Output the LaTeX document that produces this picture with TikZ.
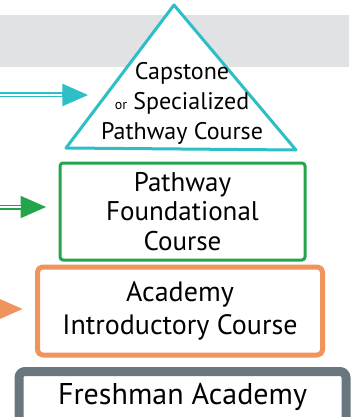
\documentclass[tikz,border=0pt]{standalone}
\usepackage{fontspec}
\setmainfont{PT Sans}
\usetikzlibrary{arrows.meta,positioning}
\definecolor{capteal}{HTML}{2EBEC8}
\definecolor{pathgreen}{HTML}{22A54B}
\definecolor{introorange}{HTML}{F0945E}
\definecolor{freshgray}{HTML}{68767E}
\definecolor{bandgray}{HTML}{E1E2E4}
\begin{document}
\begin{tikzpicture}[x=1pt,y=-1pt,line join=round,
    tier text/.style={align=center,font=\fontsize{27}{29.5}\selectfont},
    tier box/.style={draw=#1,fill=white,line width=3pt,rounded corners=3pt,inner sep=0pt},
    feed/.style n args={3}{draw=#1,line width=5pt,-{Triangle[length=26pt,width=21pt]},shorten >=#2,
                 postaction={draw=white,line width=1.6pt,-,shorten >=#3}}]
    \clip (0,0) rectangle (355,417);
    \fill[bandgray] (0,15) rectangle (349,67);

    \coordinate (apex) at (174,5);
    \coordinate (base left) at (66,148);
    \coordinate (base right) at (296,150);
    \draw[capteal,fill=white,line width=3pt] (apex) -- (base right) -- (base left) -- cycle;
    \node[tier text,font=\fontsize{24}{30}\selectfont] (cap) at (182,103)
        {Capstone\\{\fontsize{14}{14}\selectfont or} Specialized\\Pathway Course};

    \node[tier box=pathgreen,tier text,minimum width=245pt,minimum height=97pt] (found) at (182.5,211.5)
        {Pathway\\Foundational\\Course};
    \node[tier box=introorange,tier text,line width=5pt,rounded corners=5pt,
          font=\fontsize{28}{33}\selectfont,minimum width=285pt,minimum height=88pt] (intro) at (180,311)
        {Academy\\Introductory Course};
    \node[tier box=freshgray,line width=9pt,rounded corners=6pt,anchor=north,
          font=\fontsize{30}{32}\selectfont,text height=33pt,text depth=40pt,
          minimum width=327pt] (fresh) at (182.5,367) {Freshman Academy};

    \coordinate (cap feed) at (0,95);
    \coordinate (found feed) at (0,207);
    \coordinate (intro feed) at (-30,309);
    \draw[feed={capteal}{9pt}{35pt}] (cap feed) -- (cap feed -| cap.west);
    \draw[feed={pathgreen}{12pt}{38pt}] (found feed) -- (found feed -| found.west);
    \draw[feed={introorange}{12pt}{38pt}] (intro feed) -- (intro feed -| intro.west);
\end{tikzpicture}
\end{document}
